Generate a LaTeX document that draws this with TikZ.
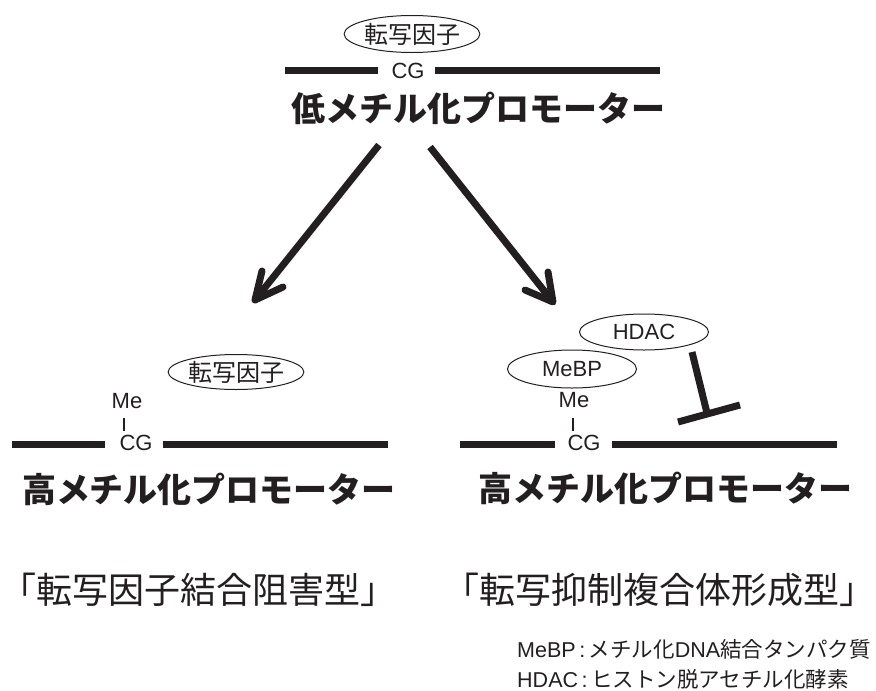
\documentclass[tikz,border=0pt]{standalone}
\usepackage{fontspec}
\setmainfont{Liberation Sans}
\newfontfamily\jp{Noto Sans CJK JP}
\usetikzlibrary{shapes.geometric}
\definecolor{ink}{HTML}{231F20}
\newcommand{\legjp}{\jp\fontsize{21.5}{24}\selectfont}
\begin{document}
\begin{tikzpicture}[x=1pt,y=-1pt,
  dna/.style={line width=7pt, draw=ink},
  prot/.style={ellipse, draw=ink, line width=1pt, minimum width=129pt, minimum height=37pt, inner sep=0pt, text=ink},
  lab/.style={inner sep=0pt, text=ink, font=\fontsize{22}{24}\selectfont},
  ttl/.style={inner sep=0pt, text=ink, font=\jp\bfseries\fontsize{34}{36}\selectfont},
  typ/.style={inner sep=0pt, text=ink, anchor=west, font=\jp\fontsize{36}{38}\selectfont},
  leg/.style={inner sep=0pt, text=ink, anchor=west, font=\fontsize{21.5}{24}\selectfont},
  arr/.style={draw=ink, line width=7pt, line join=round},
  tbar/.style={draw=ink, line width=7pt},
  meline/.style={draw=ink, line width=1.8pt}]
\useasboundingbox (0,0) rectangle (876,691);
% top: low methylation promoter
\node[prot, font=\jp\fontsize{24}{26}\selectfont] (tf0) at (412,34) {転写因子};
\node[lab] (cg0) at (408,71) {CG};
\coordinate (d0a) at (285,70); \coordinate (d0b) at (378,70);
\coordinate (d0c) at (435,70); \coordinate (d0d) at (660,70);
\draw[dna] (d0a) -- (d0b);
\draw[dna] (d0c) -- (d0d);
\node[ttl] (t0) at (478,108) {低メチル化プロモーター};
% arrows
\coordinate (a1s) at (379,145); \coordinate (a1t) at (255,300);
\coordinate (a1b1) at (262,271); \coordinate (a1b2) at (283,287);
\draw[arr, line cap=butt] (a1s) -- (a1t);
\draw[arr, line cap=round] (a1b1) -- (a1t) -- (a1b2);
\coordinate (a2s) at (430,147); \coordinate (a2t) at (553,302);
\coordinate (a2b1) at (548,272); \coordinate (a2b2) at (525,290);
\draw[arr, line cap=butt] (a2s) -- (a2t);
\draw[arr, line cap=round] (a2b1) -- (a2t) -- (a2b2);
% bottom left
\node[prot, font=\jp\fontsize{24}{26}\selectfont, minimum height=35pt] (tf1) at (236,372) {転写因子};
\node[lab] (me1) at (127,401) {Me};
\node[lab] (cg1) at (136,443) {CG};
\coordinate (m1a) at (124,418); \coordinate (m1b) at (124,431);
\draw[meline] (m1a) -- (m1b);
\coordinate (d1a) at (12,444); \coordinate (d1b) at (105,444);
\coordinate (d1c) at (163,444); \coordinate (d1d) at (388,444);
\draw[dna] (d1a) -- (d1b);
\draw[dna] (d1c) -- (d1d);
\node[ttl] (t1) at (209,489) {高メチル化プロモーター};
\node[typ] (ty1) at (0.5,590) {「転写因子結合阻害型」};
% bottom right
\node[prot, minimum height=36pt, font=\fontsize{22}{24}\selectfont] (hdac) at (644,332) {HDAC};
\node[prot, minimum height=38pt, font=\fontsize{22}{24}\selectfont, fill=white] (mebp) at (572,369) {MeBP};
\node[lab] (me2) at (574,400) {Me};
\node[lab] (cg2) at (584,443) {CG};
\coordinate (m2a) at (573,418); \coordinate (m2b) at (573,431);
\draw[meline] (m2a) -- (m2b);
\coordinate (d2a) at (460,444); \coordinate (d2b) at (555,444);
\coordinate (d2c) at (612,444); \coordinate (d2d) at (837,444);
\draw[dna] (d2a) -- (d2b);
\draw[dna] (d2c) -- (d2d);
\coordinate (ts) at (692,352); \coordinate (te) at (707,413);
\coordinate (tb1) at (678,422); \coordinate (tb2) at (740,405);
\draw[tbar] (ts) -- (te);
\draw[tbar] (tb1) -- (tb2);
\node[ttl] (t2) at (665,488) {高メチル化プロモーター};
\node[typ] (ty2) at (443,590) {「転写抑制複合体形成型」};
% legend
\node[leg] (lg1) at (517,649) {MeBP\,:\,{\legjp メチル化}DNA{\legjp 結合タンパク質}};
\node[leg] (lg2) at (517,679) {HDAC\,:\,{\legjp ヒストン脱アセチル化酵素}};
\end{tikzpicture}
\end{document}
